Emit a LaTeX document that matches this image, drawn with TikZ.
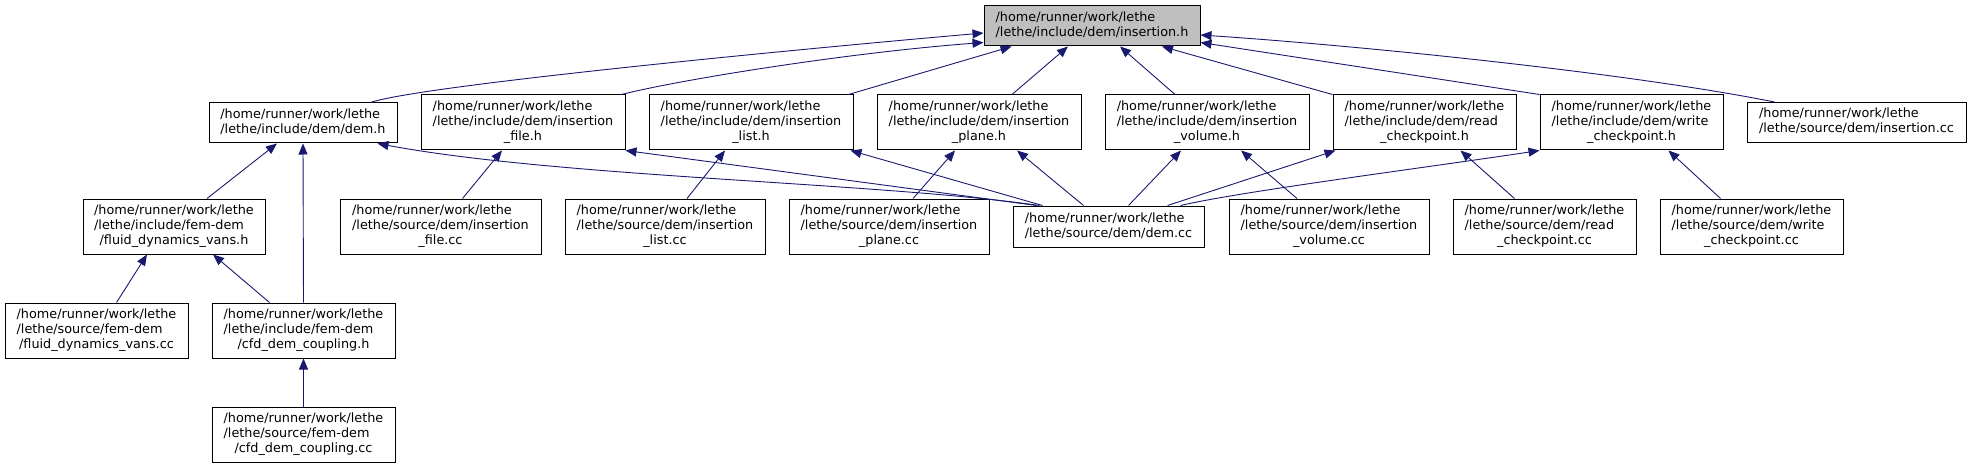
\documentclass[tikz,border=0pt]{standalone}
\usepackage{fontspec}
\setmainfont{DejaVu Sans}
\usetikzlibrary{arrows.meta}
\definecolor{cEdge}{HTML}{191970}
\definecolor{cRoot}{HTML}{BFBFBF}

% doxygen style labels: left lines, last line centred
\newcommand{\twolab}[2]{\begin{tabular}{@{}l@{}}#1\\#2\end{tabular}}
\newcommand{\threelab}[3]{\begin{tabular}{@{}l@{}}#1\\#2\\\multicolumn{1}{@{}c@{}}{#3}\end{tabular}}

\begin{document}
\begin{tikzpicture}[
  x=1pt, y=-1pt,
  font=\fontsize{12.8}{15}\selectfont,
  >={Triangle[length=11pt, width=9pt]},
  file/.style={rectangle, draw=black, line width=1pt, fill=white, inner sep=0pt,
               minimum width=204pt, minimum height=55pt},
  small/.style={file, minimum height=40pt},
  dep/.style={->, draw=cEdge, line width=0.9pt},
]
\useasboundingbox (0,0) rectangle (1971,468);

% ---- Root header ---------------------------------------------------------
\node[small, fill=cRoot, minimum width=216pt] (ins_h) at (1092,26)
  {\twolab{/home/runner/work/lethe}{/lethe/include/dem/insertion.h}};

% ---- First row: direct includers ----------------------------------------
\node[small, minimum width=188pt] (dem_h) at (303,123)
  {\twolab{/home/runner/work/lethe}{/lethe/include/dem/dem.h}};
\node[file] (file_h) at (523,122.5)
  {\threelab{/home/runner/work/lethe}{/lethe/include/dem/insertion}{\_file.h}};
\node[file] (list_h) at (751,122.5)
  {\threelab{/home/runner/work/lethe}{/lethe/include/dem/insertion}{\_list.h}};
\node[file] (plane_h) at (979,122.5)
  {\threelab{/home/runner/work/lethe}{/lethe/include/dem/insertion}{\_plane.h}};
\node[file] (vol_h) at (1207,122.5)
  {\threelab{/home/runner/work/lethe}{/lethe/include/dem/insertion}{\_volume.h}};
\node[file, minimum width=183pt] (read_h) at (1424.5,122.5)
  {\threelab{/home/runner/work/lethe}{/lethe/include/dem/read}{\_checkpoint.h}};
\node[file, minimum width=183pt] (write_h) at (1631.5,122.5)
  {\threelab{/home/runner/work/lethe}{/lethe/include/dem/write}{\_checkpoint.h}};
\node[small, minimum width=219pt] (ins_cc) at (1856.5,122.5)
  {\twolab{/home/runner/work/lethe}{/lethe/source/dem/insertion.cc}};

% ---- Second row ----------------------------------------------------------
\node[file, minimum width=182pt] (vans_h) at (174,226.5)
  {\threelab{/home/runner/work/lethe}{/lethe/include/fem-dem}{/fluid\_dynamics\_vans.h}};
\node[file, minimum width=201pt] (file_cc) at (440.5,226.5)
  {\threelab{/home/runner/work/lethe}{/lethe/source/dem/insertion}{\_file.cc}};
\node[file, minimum width=200pt] (list_cc) at (665,226.5)
  {\threelab{/home/runner/work/lethe}{/lethe/source/dem/insertion}{\_list.cc}};
\node[file, minimum width=200pt] (plane_cc) at (889,226.5)
  {\threelab{/home/runner/work/lethe}{/lethe/source/dem/insertion}{\_plane.cc}};
\node[small, minimum width=191pt, minimum height=41pt] (dem_cc) at (1108.5,226.5)
  {\twolab{/home/runner/work/lethe}{/lethe/source/dem/dem.cc}};
\node[file, minimum width=200pt] (vol_cc) at (1329,226.5)
  {\threelab{/home/runner/work/lethe}{/lethe/source/dem/insertion}{\_volume.cc}};
\node[file, minimum width=183pt] (read_cc) at (1544.5,226.5)
  {\threelab{/home/runner/work/lethe}{/lethe/source/dem/read}{\_checkpoint.cc}};
\node[file, minimum width=183pt] (write_cc) at (1751.5,226.5)
  {\threelab{/home/runner/work/lethe}{/lethe/source/dem/write}{\_checkpoint.cc}};

% ---- Third and fourth rows (fem-dem) ---------------------------------------
\node[file, minimum width=183pt] (vans_cc) at (96.5,330.5)
  {\threelab{/home/runner/work/lethe}{/lethe/source/fem-dem}{/fluid\_dynamics\_vans.cc}};
\node[file, minimum width=183pt] (cfd_h) at (303.5,330.5)
  {\threelab{/home/runner/work/lethe}{/lethe/include/fem-dem}{/cfd\_dem\_coupling.h}};
\node[file, minimum width=183pt] (cfd_cc) at (303.5,434.5)
  {\threelab{/home/runner/work/lethe}{/lethe/source/fem-dem}{/cfd\_dem\_coupling.cc}};

% ---- Include edges to the root -------------------------------------------
\draw[dep] ([xshift=162pt]dem_h.north west) .. controls +(49,-17) and +(-184,16) ..
  ([yshift=-7pt]ins_h.west);
\draw[dep] ([xshift=-4pt]file_h.north east) .. controls +(59,-15) and +(-134,10) ..
  ([yshift=4pt]ins_h.south west);
\draw[dep] ([xshift=-5pt]list_h.north east) -- ([xshift=28pt]ins_h.south west);
\draw[dep] ([xshift=33pt]plane_h.north) -- ([xshift=-24pt]ins_h.south);
\draw[dep] ([xshift=-32pt]vol_h.north) -- ([xshift=28pt]ins_h.south);
\draw[dep] (read_h.north west) -- ([xshift=70pt]ins_h.south);
\draw[dep] (write_h.north west) -- ([yshift=4pt]ins_h.south east);
\draw[dep] ([xshift=28pt]ins_cc.north west) .. controls +(-150,-30) and +(150,10) ..
  ([yshift=-9pt]ins_h.east);

% ---- Second level edges ------------------------------------------------------
\draw[dep] ([xshift=33pt]vans_h.north) -- ([xshift=-26pt]dem_h.south);
\draw[dep] (cfd_h.north) -- (dem_h.south);
\draw[dep] ([xshift=27pt]dem_cc.north west) .. controls +(-160,-23) and +(183,34) ..
  ([xshift=-20pt]dem_h.south east);
\draw[dep] ([xshift=22pt]file_cc.north) -- ([xshift=-21pt]file_h.south);
\draw[dep] ([xshift=24pt]dem_cc.north west) -- (file_h.south east);
\draw[dep] ([xshift=22pt]list_cc.north) -- ([xshift=-26pt]list_h.south);
\draw[dep] ([xshift=30pt]dem_cc.north west) -- ([xshift=-3pt]list_h.south east);
\draw[dep] ([xshift=24pt]plane_cc.north) -- ([xshift=-24pt]plane_h.south);
\draw[dep] ([xshift=-25pt]dem_cc.north) -- ([xshift=38pt]plane_h.south);
\draw[dep] ([xshift=20pt]dem_cc.north) -- ([xshift=-26pt]vol_h.south);
\draw[dep] ([xshift=-32pt]vol_cc.north) -- ([xshift=34pt]vol_h.south);
\draw[dep] ([xshift=-37pt]dem_cc.north east) -- ([xshift=3pt]read_h.south west);
\draw[dep] ([xshift=-24pt]dem_cc.north east) .. controls +(60,-14) and +(-120,18) ..
  (write_h.south west);
\draw[dep] ([xshift=-30pt]read_cc.north) -- ([xshift=36pt]read_h.south);
\draw[dep] ([xshift=-31pt]write_cc.north) -- ([xshift=37pt]write_h.south);

% ---- fem-dem edges -----------------------------------------------------------
\draw[dep] ([xshift=20pt]vans_cc.north) -- ([xshift=-27pt]vans_h.south);
\draw[dep] ([xshift=-34pt]cfd_h.north) -- ([xshift=39pt]vans_h.south);
\draw[dep] (cfd_cc.north) -- (cfd_h.south);

\end{tikzpicture}
\end{document}
